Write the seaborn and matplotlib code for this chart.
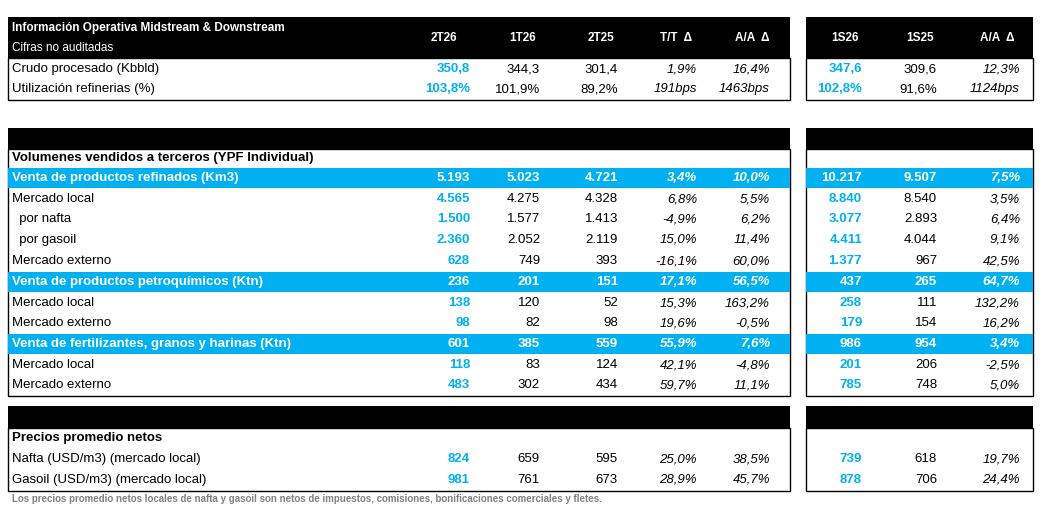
import matplotlib
matplotlib.use('Agg')
import matplotlib.pyplot as plt
from matplotlib.patches import Rectangle
import seaborn as sns

sns.set_theme(style="white")
plt.rcParams['font.family'] = ['Liberation Sans', 'DejaVu Sans']

BLUE = '#00B0F0'

headers = ['2T26', '1T26', '2T25', 'T/T  Δ', 'A/A  Δ', '1S26', '1S25', 'A/A  Δ']

row_labels = ['Crudo procesado (Kbbld)', 'Utilización refinerias (%)',
              'Volumenes vendidos a terceros (YPF Individual)',
              'Venta de productos refinados (Km3)', 'Mercado local', '  por nafta', '  por gasoil',
              'Mercado externo', 'Venta de productos petroquímicos (Ktn)', 'Mercado local',
              'Mercado externo', 'Venta de fertilizantes, granos y harinas (Ktn)', 'Mercado local',
              'Mercado externo', 'Precios promedio netos', 'Nafta (USD/m3) (mercado local)',
              'Gasoil (USD/m3) (mercado local)']
row_kind = ['n', 'n', 'sub', 'blue', 'n', 'n', 'n', 'n', 'blue', 'n', 'n', 'blue', 'n', 'n',
            'sub', 'n', 'n']
row_y = [69, 89, 158, 178, 199, 219, 240, 261, 282, 303, 323, 344, 365, 385, 438, 459, 480]

col_2t26 = ['350,8', '103,8%', '', '5.193', '4.565', '1.500', '2.360', '628', '236', '138', '98',
            '601', '118', '483', '', '824', '981']
col_1t26 = ['344,3', '101,9%', '', '5.023', '4.275', '1.577', '2.052', '749', '201', '120', '82',
            '385', '83', '302', '', '659', '761']
col_2t25 = ['301,4', '89,2%', '', '4.721', '4.328', '1.413', '2.119', '393', '151', '52', '98',
            '559', '124', '434', '', '595', '673']
col_tt = ['1,9%', '191bps', '', '3,4%', '6,8%', '-4,9%', '15,0%', '-16,1%', '17,1%', '15,3%',
          '19,6%', '55,9%', '42,1%', '59,7%', '', '25,0%', '28,9%']
col_aa = ['16,4%', '1463bps', '', '10,0%', '5,5%', '6,2%', '11,4%', '60,0%', '56,5%', '163,2%',
          '-0,5%', '7,6%', '-4,8%', '11,1%', '', '38,5%', '45,7%']
col_1s26 = ['347,6', '102,8%', '', '10.217', '8.840', '3.077', '4.411', '1.377', '437', '258', '179',
            '986', '201', '785', '', '739', '878']
col_1s25 = ['309,6', '91,6%', '', '9.507', '8.540', '2.893', '4.044', '967', '265', '111', '154',
            '954', '206', '748', '', '618', '706']
col_aas = ['12,3%', '1124bps', '', '7,5%', '3,5%', '6,4%', '9,1%', '42,5%', '64,7%', '132,2%',
           '16,2%', '3,4%', '-2,5%', '5,0%', '', '19,7%', '24,4%']

columns = [col_2t26, col_1t26, col_2t25, col_tt, col_aa, col_1s26, col_1s25, col_aas]
col_right = [470, 540, 618, 697, 770, 862, 937, 1020]
head_x = [444, 523, 601, 676, 752, 845, 920, 997]
italic_cols = {3, 4, 7}
blue_cols = {0, 5}

fig = plt.figure(figsize=(10.55, 5.14), dpi=100)
ax = fig.add_axes([0, 0, 1, 1])
ax.set_xlim(0, 1055)
ax.set_ylim(514, 0)
ax.axis('off')

L0, L1, R0, R1 = 8, 790, 806, 1033

def band(y0, y1, color):
    ax.add_patch(Rectangle((L0, y0), L1 - L0, y1 - y0, color=color, lw=0))
    ax.add_patch(Rectangle((R0, y0), R1 - R0, y1 - y0, color=color, lw=0))

def box(y0, y1):
    for a, b in [(L0, L1), (R0, R1)]:
        ax.add_patch(Rectangle((a, y0), b - a, y1 - y0, fill=False, ec='black', lw=1))

# black bands
band(17, 58, 'black')
band(128, 149, 'black')
band(406, 428, 'black')
box(58, 100)
box(149, 396)
box(428, 491)

ax.text(12, 28, 'Información Operativa Midstream & Downstream', color='white',
        fontsize=8.5, fontweight='bold', va='center')
ax.text(12, 48, 'Cifras no auditadas', color='white', fontsize=8.5, va='center')
for x, h in zip(head_x, headers):
    ax.text(x, 38, h, color='white', fontsize=8.5, fontweight='bold', ha='center', va='center')

for i, (lab, kind, y) in enumerate(zip(row_labels, row_kind, row_y)):
    if kind == 'blue':
        band(y - 10, y + 10, BLUE)
    ax.text(12, y, lab, fontsize=9.5, va='center',
            color='white' if kind == 'blue' else 'black',
            fontweight='bold' if kind in ('blue', 'sub') else 'normal')
    for j, col in enumerate(columns):
        v = col[i]
        if not v:
            continue
        if kind == 'blue':
            c, w = 'white', 'bold'
        elif j in blue_cols:
            c, w = BLUE, 'bold'
        else:
            c, w = 'black', 'normal'
        ax.text(col_right[j], y, v, fontsize=9.5, ha='right', va='center', color=c,
                fontweight=w, style='italic' if j in italic_cols else 'normal')

ax.text(12, 499, 'Los precios promedio netos locales de nafta y gasoil son netos de impuestos, '
        'comisiones, bonificaciones comerciales y fletes.', fontsize=7, color='#808080',
        fontweight='bold', va='center')

fig.savefig('out.png', dpi=100, facecolor='white')
